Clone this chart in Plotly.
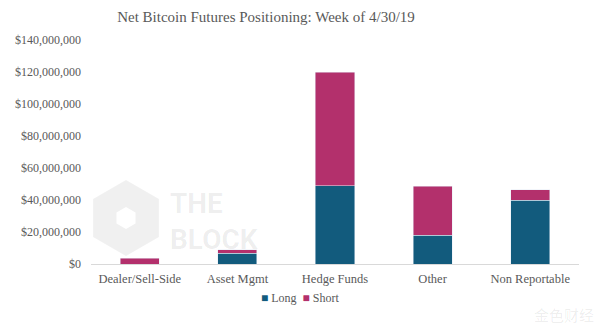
import plotly.graph_objects as go
import math

categories = ["Dealer/Sell-Side", "Asset Mgmt", "Hedge Funds", "Other", "Non Reportable"]
long_vals = [0, 6_700_000, 49_000_000, 18_100_000, 39_800_000]
short_vals = [3_700_000, 2_300_000, 71_000_000, 30_400_000, 6_700_000]
tick_vals = [0, 20_000_000, 40_000_000, 60_000_000, 80_000_000, 100_000_000, 120_000_000, 140_000_000]
tick_text = ["$" + format(v, ",") for v in tick_vals]

SERIF = "'Liberation Serif', Georgia, serif"
GREY = "#595959"
LONG_C = "#125b7d"
SHORT_C = "#b3306c"

fig = go.Figure()
fig.add_trace(go.Bar(x=categories, y=long_vals, name="Long", marker_color=LONG_C, showlegend=False))
fig.add_trace(go.Bar(x=categories, y=short_vals, name="Short", marker_color=SHORT_C, showlegend=False))

W, H = 600, 329
L, R, T, B = 91, 21, 40, 65

def px(x, y):
    # pixel -> paper coords
    return (x - L) / (W - L - R), (H - B - y) / (H - T - B)

# watermark hexagon
cx, cy, r = 126, 218, 38
pts = []
for k in range(6):
    a = math.radians(90 + 60 * k)
    pts.append(px(cx + r * math.cos(a), cy - r * math.sin(a)))
path = "M " + " L ".join(f"{x:.4f},{y:.4f}" for x, y in pts) + " Z"
shapes = [dict(type="path", xref="paper", yref="paper", path=path,
               fillcolor="rgba(0,0,0,0.06)", line=dict(width=0), layer="below")]
pts2 = []
for k in range(6):
    a = math.radians(90 + 60 * k)
    pts2.append(px(cx + 11 * math.cos(a), cy - 11 * math.sin(a)))
path2 = "M " + " L ".join(f"{x:.4f},{y:.4f}" for x, y in pts2) + " Z"
shapes.append(dict(type="path", xref="paper", yref="paper", path=path2,
                   fillcolor="white", line=dict(width=0), layer="below"))

wx, wy = px(168, 221)
jx, jy = px(596, 314)
lx, ly = px(300, 298)
legend_text = (f"<span style='color:{LONG_C}'>■</span> Long  "
               f"<span style='color:{SHORT_C}'>■</span> Short")

fig.update_layout(
    width=W, height=H,
    margin=dict(l=L, r=R, t=T, b=B, autoexpand=False),
    paper_bgcolor="white", plot_bgcolor="white",
    barmode="stack", bargap=0.6,
    title=dict(text="Net Bitcoin Futures Positioning: Week of 4/30/19",
               x=266 / W, xanchor="center", y=1 - 17 / H, yanchor="middle",
               font=dict(family=SERIF, size=15, color=GREY)),
    font=dict(family=SERIF, color=GREY),
    showlegend=False,
    xaxis=dict(showgrid=False, showline=True, linecolor="#d9d9d9", linewidth=1,
               ticks="", tickfont=dict(size=12.5, color=GREY), fixedrange=True,
               automargin=False, ticklabelstandoff=3),
    yaxis=dict(range=[0, 140_000_000], tickvals=tick_vals, ticktext=tick_text,
               showgrid=False, zeroline=False, showline=False, automargin=False,
               tickfont=dict(size=12, color=GREY), ticklabelstandoff=9),
    shapes=shapes,
    annotations=[
        dict(text="<b>THE<br>BLOCK</b>", xref="paper", yref="paper", x=wx, y=wy,
             xanchor="left", yanchor="middle", showarrow=False, align="left",
             font=dict(family="Roboto, sans-serif", size=28, color="rgba(0,0,0,0.07)")),
        dict(text="金色财经", xref="paper", yref="paper", x=jx, y=jy,
             xanchor="right", yanchor="middle", showarrow=False,
             font=dict(family="Noto Sans CJK SC", size=15, color="rgba(0,0,0,0.08)")),
        dict(text=legend_text, xref="paper", yref="paper", x=lx, y=ly,
             xanchor="center", yanchor="middle", showarrow=False,
             font=dict(family=SERIF, size=12, color=GREY)),
    ],
)
fig.write_html("out.html")
